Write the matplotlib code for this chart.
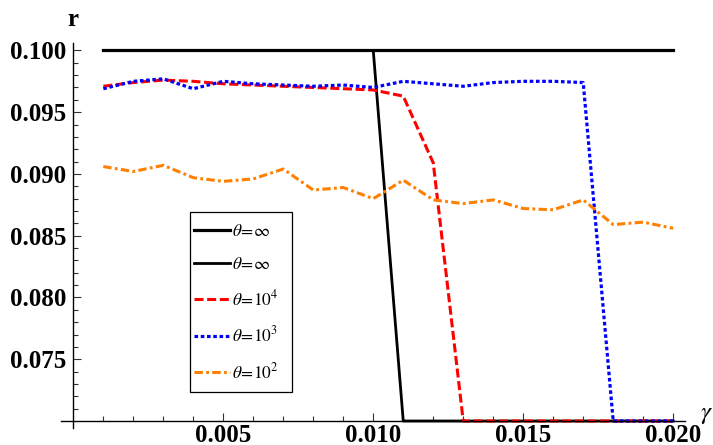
import matplotlib

matplotlib.use("Agg")
import matplotlib.pyplot as plt
from matplotlib.patches import Rectangle

plt.rcParams["font.family"] = ["Liberation Serif", "DejaVu Serif"]
plt.rcParams["mathtext.fontset"] = "stix"
plt.rcParams["lines.scale_dashes"] = False

# gamma grid 0.001 .. 0.020
gamma = [0.001, 0.002, 0.003, 0.004, 0.005, 0.006, 0.007, 0.008, 0.009, 0.010,
         0.011, 0.012, 0.013, 0.014, 0.015, 0.016, 0.017, 0.018, 0.019, 0.020]

r_inf_a = [0.100] * 20
r_inf_b = [0.100, 0.100, 0.100, 0.100, 0.100, 0.100, 0.100, 0.100, 0.100, 0.100,
           0.070, 0.070, 0.070, 0.070, 0.070, 0.070, 0.070, 0.070, 0.070, 0.070]
r_1e4 = [0.0971, 0.0974, 0.0976, 0.0975, 0.0973, 0.0972, 0.0971, 0.0970, 0.0969, 0.0968,
         0.0963, 0.0909, 0.070, 0.070, 0.070, 0.070, 0.070, 0.070, 0.070, 0.070]
r_1e3 = [0.0969, 0.0975, 0.0977, 0.0969, 0.0975, 0.0973, 0.0972, 0.0971, 0.0972, 0.0970,
         0.0975, 0.0973, 0.0971, 0.0974, 0.0975, 0.0975, 0.0974, 0.070, 0.070, 0.070]
r_1e2 = [0.0906, 0.0902, 0.0907, 0.0897, 0.0894, 0.0896, 0.0904, 0.0887, 0.0889, 0.0880,
         0.0895, 0.0879, 0.0876, 0.0879, 0.0872, 0.0871, 0.0879, 0.0859, 0.0861, 0.0856]

labels = [r"$\theta\!=\!\infty$", r"$\theta\!=\!\infty$", r"$\theta\!=\!10^4$",
          r"$\theta\!=\!10^3$", r"$\theta\!=\!10^2$"]

x_ticks = [0.005, 0.010, 0.015, 0.020]
y_ticks = [0.075, 0.080, 0.085, 0.090, 0.095, 0.100]

W, H = 713, 445
fig = plt.figure(figsize=(W / 100, H / 100), dpi=100)
ax = fig.add_axes([0.086, 0.0373, 0.875, 0.866])

ax.plot(gamma, r_inf_a, color="black", lw=2.3, label=labels[0])
ax.plot(gamma, r_inf_b, color="black", lw=2.0, label=labels[1])
ax.plot(gamma, r_1e4, color="#ff0000", lw=2.2, dashes=(6.5, 2.6), label=labels[2])
ax.plot(gamma, r_1e3, color="#0000ff", lw=2.3, dashes=(2.6, 1.9), label=labels[3])
ax.plot(gamma, r_1e2, color="#ff8000", lw=2.2, dashes=(6.0, 2.4, 2.0, 2.4), label=labels[4])

ax.set_xlim(-0.0004, 0.0204)
ax.set_ylim(0.0694, 0.1006)

# Mathematica-style axes crossing at (0, 0.07)
for s in ("top", "right"):
    ax.spines[s].set_visible(False)
ax.spines["left"].set_position(("data", 0.0))
ax.spines["bottom"].set_position(("data", 0.070))
ax.spines["left"].set_linewidth(1.0)
ax.spines["bottom"].set_linewidth(1.0)

ax.set_xticks(x_ticks)
ax.set_xticklabels([f"{v:.3f}" for v in x_ticks])
ax.set_yticks(y_ticks)
ax.set_yticklabels([f"{v:.3f}" for v in y_ticks])
ax.set_xticks([i / 1000 for i in range(1, 21) if i % 5], minor=True)
ax.set_yticks([0.070 + i / 1000 for i in range(1, 31) if i % 5], minor=True)
ax.tick_params(which="both", direction="in", color="#333333", width=0.8)
ax.tick_params(which="major", length=6)
ax.tick_params(which="minor", length=3.5)
ax.tick_params(axis="y", which="major", pad=5, labelsize=18)
ax.tick_params(axis="x", which="major", pad=2.5, labelsize=18)
for lab in ax.get_xticklabels() + ax.get_yticklabels():
    lab.set_fontweight("bold")

fig.text(73 / W, 1 - 20 / H, "r", fontsize=18, fontweight="bold",
         ha="center", va="center")
fig.text(706 / W, 1 - 415 / H, r"$\gamma$", fontsize=18, ha="center", va="center")

# legend: entries without frame, box drawn separately (Mathematica style, wide right margin)
leg = ax.legend(loc="upper left", bbox_to_anchor=(194 / W, 1 - 224 / H),
                bbox_transform=fig.transFigure, frameon=False,
                fontsize=12.5, handlelength=2.1, handletextpad=0.1,
                labelspacing=0.95, borderpad=0, borderaxespad=0)
fig.patches.append(Rectangle((190 / W, 1 - 392 / H), 102 / W, 180 / H,
                             transform=fig.transFigure, facecolor="none",
                             edgecolor="black", linewidth=0.9, zorder=5))

fig.savefig("out.png", dpi=100)
